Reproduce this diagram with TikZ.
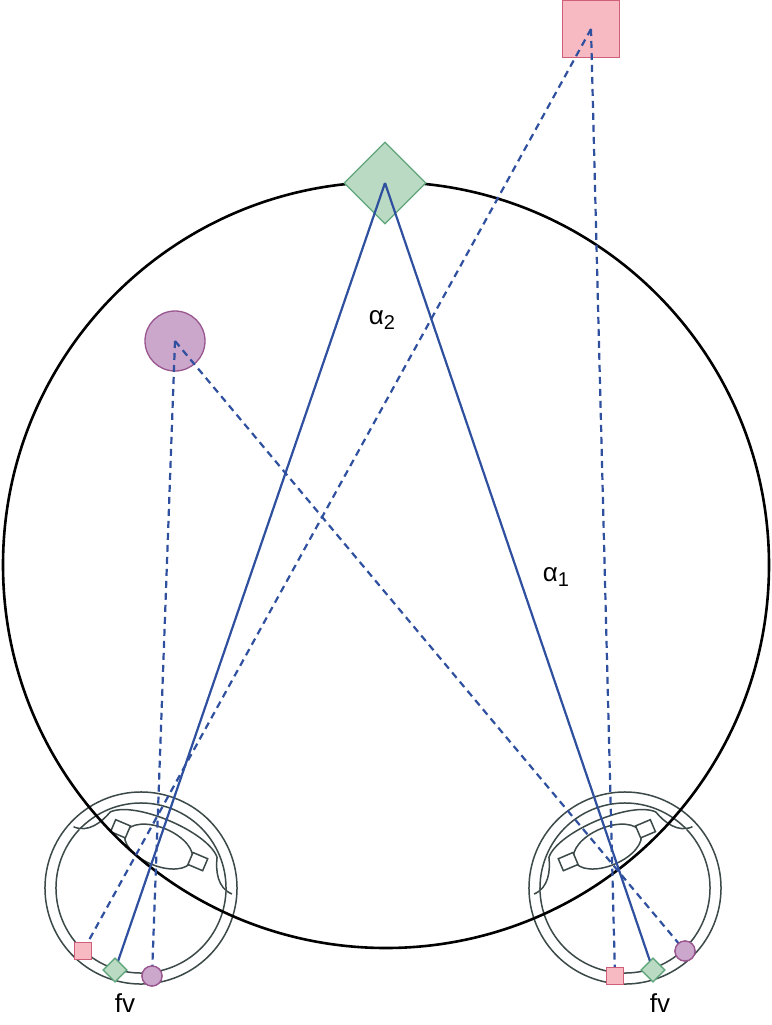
\documentclass[tikz,border=0pt]{standalone}
\usepackage{fontspec}
\setmainfont{Liberation Sans}
\usetikzlibrary{shapes.geometric}
\definecolor{pinkf}{HTML}{F8BAC2}\definecolor{pinkd}{HTML}{CF5F78}
\definecolor{greenf}{HTML}{BBDAC3}\definecolor{greend}{HTML}{5EA57C}
\definecolor{purpf}{HTML}{CBA7CC}\definecolor{purpd}{HTML}{99568F}
\definecolor{blu}{HTML}{2F4F9F}\definecolor{eyec}{HTML}{3B4948}
\tikzset{
 sq/.style={draw=pinkd,fill=pinkf,line width=1.3pt,minimum size=#1,inner sep=0pt},
 dia/.style={draw=greend,fill=greenf,line width=1.3pt,diamond,minimum size=#1,inner sep=0pt},
 circ/.style={draw=purpd,fill=purpf,line width=1.3pt,circle,minimum size=#1,inner sep=0pt},
 sol/.style={blu,line width=2.2pt},
 dsh/.style={blu,line width=2.2pt,dash pattern=on 7pt off 5pt},
 eyeline/.style={eyec,line width=1.5pt},
 lbl/.style={font=\fontsize{26}{28}\selectfont}
}
\newcommand{\eyedraw}{%
 \draw[eyeline] (0,0) circle (96);
 \draw[eyeline] (0,0) circle (85);
 \draw[eyeline,fill=white] (-86,-30) .. controls (-70,-30) and (-62,-45) .. (-58,-58) .. controls (-40,-78) and (40,-78) .. (58,-58) .. controls (62,-45) and (70,-30) .. (86,-30);
 \draw[eyeline,fill=white] (0,-45) ellipse (36 and 19);
 \draw[eyeline,fill=white] (-50,-53) rectangle (-34,-40);
 \draw[eyeline,fill=white] (34,-53) rectangle (50,-40);
}
\begin{document}
\begin{tikzpicture}[x=1pt,y=-1pt]
\useasboundingbox (0,0) rectangle (771,1025);
\fill[white] (0,0) rectangle (771,1025);
\begin{scope}[shift={(141,888)},rotate=-23]\eyedraw\end{scope}
\begin{scope}[shift={(625,888)},rotate=23]\eyedraw\end{scope}
\node[circle,draw=black,line width=2.6pt,minimum size=766,inner sep=0pt] (big) at (386,565) {};
\node[dia=82] (D) at (385,183) {};
\node[sq=57] (S) at (591,29) {};
\node[circ=60] (C) at (175,341) {};
\node[sq=17] (Ls) at (83,951) {};
\node[dia=24] (Ld) at (115,970) {};
\node[circ=20] (Lc) at (152,976) {};
\node[sq=17] (Rs) at (615,976) {};
\node[dia=24] (Rd) at (653,970) {};
\node[circ=20] (Rc) at (685,951) {};
\draw[sol] (D.center) -- (Ld.center);
\draw[sol] (D.center) -- (Rd.center);
\draw[dsh] (S.center) -- (Ls.center);
\draw[dsh] (S.center) -- (Rs.center);
\draw[dsh] (C.center) -- (Lc.center);
\draw[dsh] (C.center) -- (Rc.center);
\node[sq=17] at (83,951) {};
\node[dia=24] at (115,970) {};
\node[circ=20] at (152,976) {};
\node[sq=17] at (615,976) {};
\node[dia=24] at (653,970) {};
\node[circ=20] at (685,951) {};
\node[lbl] (a2) at (382,320) {α\raisebox{-0.35ex}{\fontsize{20}{22}\selectfont 2}};
\node[lbl] (a1) at (556,577) {α\raisebox{-0.35ex}{\fontsize{20}{22}\selectfont 1}};
\node[lbl] (f1) at (125,1003) {fv};
\node[lbl] (f2) at (660,1003) {fv};
\end{tikzpicture}
\end{document}
